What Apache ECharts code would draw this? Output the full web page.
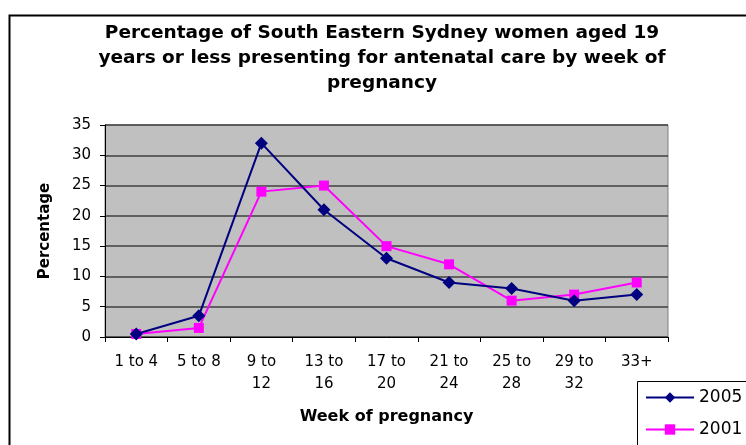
<!DOCTYPE html>
<html>
<head>
<meta charset="utf-8">
<script src="https://cdn.jsdelivr.net/npm/echarts@6/dist/echarts.min.js"></script>
<style>html,body{margin:0;padding:0;background:#fff}#c{width:746px;height:445px}</style>
</head>
<body>
<div id="c"></div>
<script>
const titleText = 'Percentage of South Eastern Sydney women aged 19\nyears or less presenting for antenatal care by week of\npregnancy';
const categories = ['1 to 4', '5 to 8', '9 to 12', '13 to 16', '17 to 20', '21 to 24', '25 to 28', '29 to 32', '33+'];
const series2005 = [0.5, 3.5, 32, 21, 13, 9, 8, 6, 7];
const series2001 = [0.5, 1.5, 24, 25, 15, 12, 6, 7, 9];
const yTicks = { min: 0, max: 35, interval: 5 };

const FONT = 'DejaVu Sans';
const chart = echarts.init(document.getElementById('c'));
chart.setOption({
  backgroundColor: '#ffffff',
  animation: false,
  graphic: [
    { type: 'rect', left: 7, top: 13, z: -1,
      shape: { width: 800, height: 500 },
      style: { fill: 'none', stroke: '#000', lineWidth: 2 } },
    { type: 'rect', left: 637, top: 381, z: 1,
      shape: { width: 200, height: 200 },
      style: { fill: '#fff', stroke: '#000', lineWidth: 1 } }
  ],
  title: {
    text: titleText, left: 377, top: 16, textAlign: 'center',
    textStyle: { fontFamily: FONT, fontWeight: 'bold', fontSize: 18.5, lineHeight: 25, color: '#000' }
  },
  grid: {
    left: 105, top: 125, right: 78, bottom: 108,
    show: true, backgroundColor: '#C0C0C0', borderColor: '#808080', borderWidth: 1
  },
  legend: {
    orient: 'vertical', left: 645, top: 389, z: 5,
    padding: 0, itemGap: 15, itemWidth: 48, itemHeight: 13,
    textStyle: { fontFamily: FONT, fontSize: 17, color: '#000' },
    data: ['2005', '2001']
  },
  xAxis: {
    type: 'category', data: categories, boundaryGap: true,
    name: 'Week of pregnancy', nameLocation: 'middle', nameGap: 72,
    nameTextStyle: { fontFamily: FONT, fontWeight: 'bold', fontSize: 16, color: '#000' },
    axisLine: { lineStyle: { color: '#000', width: 1 } },
    axisTick: { show: true, alignWithLabel: false, length: 5, lineStyle: { color: '#000' } },
    axisLabel: {
      fontFamily: FONT, fontSize: 15, color: '#000', lineHeight: 22, margin: 14, interval: 0,
      formatter: v => v.length > 6 ? v.replace(/ (\d+)$/, '\n$1') : v
    },
    splitLine: { show: false }
  },
  yAxis: {
    type: 'value', min: yTicks.min, max: yTicks.max, interval: yTicks.interval,
    name: 'Percentage', nameLocation: 'middle', nameGap: 52, nameRotate: 90,
    nameTextStyle: { fontFamily: FONT, fontWeight: 'bold', fontSize: 15, color: '#000' },
    axisLine: { show: true, lineStyle: { color: '#000', width: 1 } },
    axisTick: { show: true, length: 5, lineStyle: { color: '#000' } },
    axisLabel: { fontFamily: FONT, fontSize: 15, color: '#000', margin: 14 },
    splitLine: { show: true, lineStyle: { color: '#404040', width: 1.5 } }
  },
  series: [
    {
      name: '2005', type: 'line', data: series2005,
      symbol: 'diamond', symbolSize: 13,
      lineStyle: { color: '#000080', width: 2 },
      itemStyle: { color: '#000080' }, z: 3
    },
    {
      name: '2001', type: 'line', data: series2001,
      symbol: 'rect', symbolSize: 10,
      lineStyle: { color: '#FF00FF', width: 2 },
      itemStyle: { color: '#FF00FF' }, z: 2
    }
  ]
});
</script>
</body>
</html>
